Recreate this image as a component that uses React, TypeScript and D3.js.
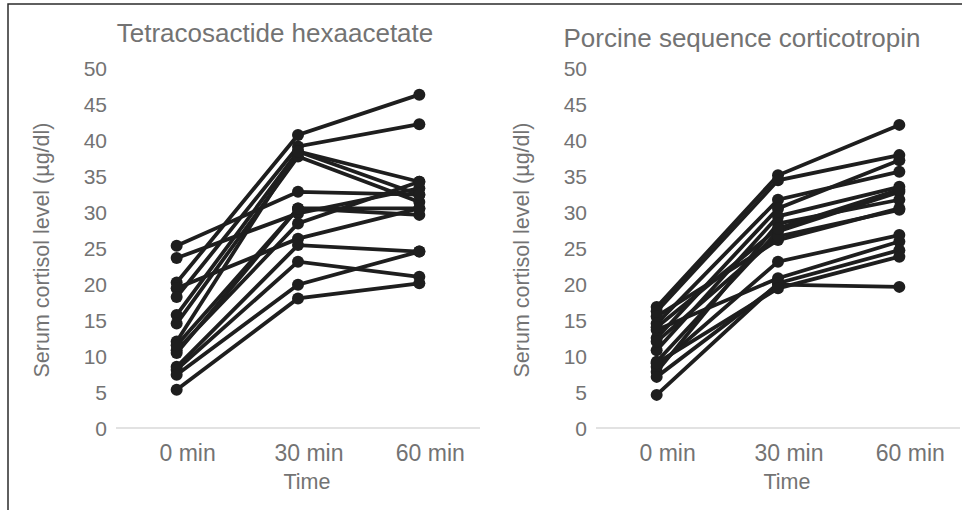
import React, { useRef, useEffect } from "react";
import * as d3 from "d3";

// categories and ticks
const timeLabels = ["0 min", "30 min", "60 min"];
const yTicks = [0, 5, 10, 15, 20, 25, 30, 35, 40, 45, 50];

// Tetracosactide hexaacetate, one entry per dog
const tetraMin0 = [25.3, 23.6, 20.2, 19.4, 18.2, 15.7, 14.5, 12.0, 10.8, 10.4, 8.5, 8.1, 7.4, 5.3, 11.5];
const tetraMin30 = [32.8, 29.8, 40.7, 26.3, 39.1, 38.4, 37.7, 38.4, 28.4, 30.5, 25.4, 23.1, 19.9, 18.0, 30.5];
const tetraMin60 = [32.4, 33.3, 46.3, 30.5, 42.2, 34.2, 31.4, 32.4, 34.2, 29.6, 24.5, 21.0, 24.5, 20.1, 30.5];

// Porcine sequence corticotropin
const porcMin0 = [16.8, 16.2, 15.5, 14.5, 13.6, 12.5, 10.8, 9.2, 8.5, 7.8, 7.1, 4.6, 12.0, 9.0, 14.0];
const porcMin30 = [35.1, 34.4, 26.1, 31.7, 20.8, 30.5, 29.4, 27.3, 23.1, 28.4, 19.9, 20.1, 26.6, 19.4, 27.7];
const porcMin60 = [42.1, 37.9, 30.5, 35.6, 25.9, 37.2, 33.5, 32.8, 26.8, 31.7, 19.6, 24.7, 30.3, 23.8, 33.1];

const FONT = "'Liberation Sans', Arial, sans-serif";
const GREY = "#737373";
const INK = "#1e1e1e";

const drawPanel = (svg, opts) => {
  const { left, right, title, titleX, titleY, min0, min30, min60 } = opts;
  const top = 68;
  const bottom = 428;

  const x = d3.scaleBand().domain(timeLabels).range([left, right]);
  const y = d3.scaleLinear().domain([0, 50]).range([bottom, top]);
  const cx = (t) => x(t) + x.bandwidth() / 2;

  const g = svg.append("g");

  // baseline
  g.append("line")
    .attr("x1", left)
    .attr("x2", right)
    .attr("y1", y(0))
    .attr("y2", y(0))
    .attr("stroke", "#d9d9d9")
    .attr("stroke-width", 1.5);

  // y tick labels
  g.selectAll(".ytick")
    .data(yTicks)
    .join("text")
    .attr("x", left - 9)
    .attr("y", (d) => y(d) + 7.5)
    .attr("text-anchor", "end")
    .attr("font-size", 21)
    .attr("fill", GREY)
    .text((d) => d);

  // x tick labels
  g.selectAll(".xtick")
    .data(timeLabels)
    .join("text")
    .attr("x", (d) => cx(d) + 11)
    .attr("y", y(0) + 33)
    .attr("text-anchor", "middle")
    .attr("font-size", 23)
    .attr("fill", GREY)
    .text((d) => d);

  g.append("text")
    .attr("x", cx(timeLabels[1]) + 9)
    .attr("y", y(0) + 61)
    .attr("text-anchor", "middle")
    .attr("font-size", 21.5)
    .attr("fill", GREY)
    .text("Time");

  g.append("text")
    .attr("transform", `translate(${left - 67},${(top + bottom) / 2 + 2}) rotate(-90)`)
    .attr("text-anchor", "middle")
    .attr("font-size", 21.5)
    .attr("fill", GREY)
    .text("Serum cortisol level (µg/dl)");

  g.append("text")
    .attr("x", titleX)
    .attr("y", titleY)
    .attr("text-anchor", "middle")
    .attr("font-size", 26)
    .attr("fill", GREY)
    .text(title);

  const subjects = min0.map((v, i) => [v, min30[i], min60[i]]);
  const line = d3
    .line()
    .x((d, i) => cx(timeLabels[i]))
    .y((d) => y(d));

  g.selectAll(".subj")
    .data(subjects)
    .join("path")
    .attr("d", line)
    .attr("fill", "none")
    .attr("stroke", INK)
    .attr("stroke-width", 3.8);

  const pts = subjects.flatMap((s) => s.map((v, i) => ({ v, t: timeLabels[i] })));
  g.selectAll(".pt")
    .data(pts)
    .join("circle")
    .attr("cx", (d) => cx(d.t))
    .attr("cy", (d) => y(d.v))
    .attr("r", 6)
    .attr("fill", INK);
};

const App = () => {
  const ref = useRef();

  useEffect(() => {
    const svg = d3.select(ref.current);
    svg.selectAll("*").remove();
    svg.attr("font-family", FONT);

    // frame (top and left edges)
    svg.append("path")
      .attr("d", "M8,510V4H962")
      .attr("fill", "none")
      .attr("stroke", "#2b2b2b")
      .attr("stroke-width", 1.5);

    drawPanel(svg, {
      left: 116,
      right: 480,
      title: "Tetracosactide hexaacetate",
      titleX: 275,
      titleY: 42,
      min0: tetraMin0,
      min30: tetraMin30,
      min60: tetraMin60,
    });

    drawPanel(svg, {
      left: 596,
      right: 960,
      title: "Porcine sequence corticotropin",
      titleX: 742,
      titleY: 47,
      min0: porcMin0,
      min30: porcMin30,
      min60: porcMin60,
    });
  }, []);

  return (
    <svg
      ref={ref}
      width={965}
      height={510}
      style={{ position: "absolute", left: 0, top: 0, background: "#fff" }}
    ></svg>
  );
};

export default App;
